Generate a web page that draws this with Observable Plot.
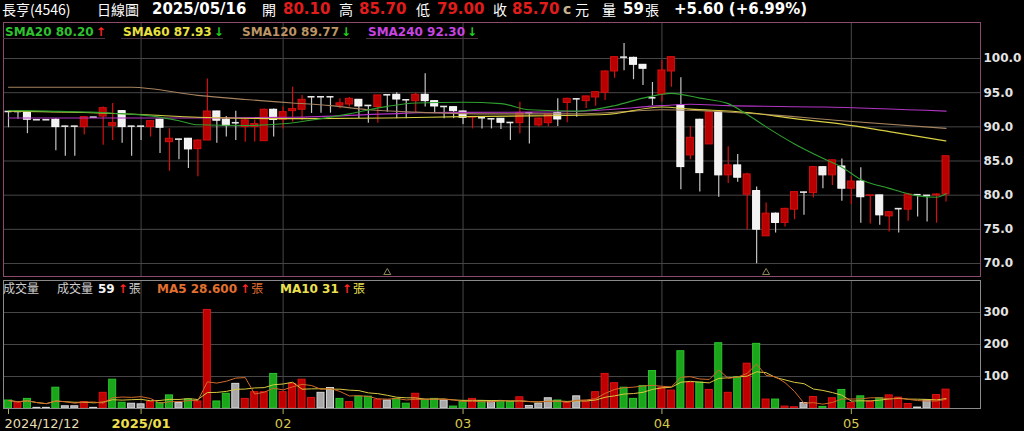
<!DOCTYPE html>
<html>
<head>
<meta charset="utf-8">
<script src="https://cdn.jsdelivr.net/npm/d3@7"></script>
<script src="https://cdn.jsdelivr.net/npm/@observablehq/plot@0.6"></script>
<style>
  body { margin: 0; background: #000; }
  #wrap { position: relative; width: 1024px; height: 431px; overflow: hidden; background: #000;
          font-family: "DejaVu Sans", "Noto Sans CJK TC", sans-serif; }
  #wrap svg { position: absolute; left: 0; }
  .t { position: absolute; white-space: nowrap; line-height: 1; }
  .cjk { font-family: "Noto Sans CJK TC", "DejaVu Sans", sans-serif; font-weight: normal; }
  .b { font-weight: bold; }
  .u { position: absolute; height: 0; border-bottom: 1px solid #4a3440; }
</style>
</head>
<body>
<div id="wrap"></div>
<script>
// ---- daily prices, 2024/12/12 .. 2025/05/16 (100 trading days) ----
const open = [
  92.25, 92.25, 92.10, 91.04, 91.04, 91.04, 90.10, 90.10, 89.96, 91.42,
  91.50, 90.16, 92.30, 90.10, 90.10, 89.96, 91.04, 87.76, 88.20, 88.26,
  86.74, 88.00, 92.25, 91.04, 90.60, 89.96, 90.00, 87.90, 92.50, 91.04,
  92.30, 92.50, 94.40, 94.40, 94.40, 93.10, 93.27, 93.96, 93.13, 92.90,
  94.69, 94.69, 93.96, 93.76, 94.69, 93.76, 92.98, 92.88, 92.25, 91.35,
  91.33, 91.18, 91.18, 90.64, 90.54, 92.06, 90.20, 90.54, 92.00, 93.50,
  94.10, 93.76, 94.30, 94.99, 98.10, 100.20, 100.10, 99.08, 94.25, 94.74,
  98.10, 93.13, 85.82, 91.04, 87.43, 92.15, 82.90, 84.36, 80.07, 80.60,
  73.98, 77.30, 75.94, 77.88, 80.45, 80.30, 84.10, 82.90, 84.20, 80.95,
  82.00, 79.90, 79.97, 76.90, 78.03, 77.88, 80.07, 79.97, 79.95, 80.10
];
const high = [
  92.25, 92.25, 92.30, 91.04, 91.04, 91.20, 90.10, 90.10, 91.50, 91.42,
  92.90, 93.40, 92.40, 90.10, 90.10, 90.90, 91.10, 89.70, 88.20, 88.30,
  88.10, 97.00, 92.30, 91.50, 92.30, 91.10, 91.00, 92.60, 92.60, 92.90,
  95.80, 94.60, 94.40, 94.40, 94.40, 94.10, 94.30, 94.00, 93.13, 94.60,
  94.69, 95.00, 93.96, 94.90, 97.76, 93.80, 92.98, 92.90, 92.30, 91.42,
  91.33, 91.18, 91.20, 90.64, 93.60, 92.06, 91.30, 91.90, 94.10, 94.20,
  94.10, 94.50, 95.10, 98.20, 100.20, 102.20, 100.20, 99.10, 96.50, 99.70,
  100.20, 97.18, 90.06, 91.10, 92.30, 92.20, 87.10, 85.96, 83.20, 81.20,
  78.85, 77.40, 78.10, 80.50, 80.45, 84.20, 84.10, 85.10, 85.30, 82.75,
  84.00, 79.97, 80.00, 77.60, 78.03, 80.20, 80.07, 79.97, 80.20, 85.70
];
const low = [
  89.87, 91.10, 89.00, 91.04, 91.04, 86.50, 85.70, 85.70, 88.80, 91.42,
  87.30, 88.00, 87.60, 85.70, 88.00, 88.50, 86.10, 83.50, 85.20, 83.90,
  82.70, 88.00, 87.60, 88.50, 88.00, 87.76, 87.80, 87.90, 88.50, 89.70,
  90.70, 90.90, 91.96, 92.00, 92.00, 92.65, 92.90, 91.20, 90.54, 90.54,
  92.15, 91.20, 91.20, 92.15, 92.90, 91.90, 91.20, 91.20, 90.35, 89.70,
  89.70, 89.70, 89.60, 88.00, 89.00, 87.50, 89.96, 90.00, 90.06, 90.60,
  91.40, 92.70, 93.00, 93.86, 97.10, 98.20, 96.90, 96.05, 93.10, 93.60,
  95.80, 80.80, 85.20, 80.45, 87.40, 79.70, 81.70, 81.90, 74.95, 69.98,
  73.98, 74.46, 75.35, 76.40, 77.05, 79.60, 80.95, 81.40, 79.10, 78.65,
  75.90, 75.80, 75.60, 74.60, 74.46, 76.20, 76.80, 76.07, 75.90, 79.00
];
const close = [
  92.25, 92.25, 91.04, 91.04, 91.04, 89.96, 90.10, 90.10, 91.42, 91.42,
  92.73, 90.54, 89.96, 90.10, 90.10, 90.83, 89.87, 88.26, 88.20, 86.70,
  88.00, 92.25, 90.90, 90.16, 90.60, 90.94, 90.40, 92.50, 91.00, 92.15,
  92.60, 93.96, 94.40, 94.40, 94.40, 93.45, 94.10, 92.98, 93.13, 94.60,
  94.69, 94.00, 93.96, 94.69, 93.76, 92.98, 92.98, 92.30, 91.33, 91.42,
  91.33, 91.18, 90.60, 90.64, 92.00, 92.06, 91.20, 91.80, 91.08, 94.10,
  94.10, 94.45, 95.07, 98.10, 100.20, 100.20, 99.08, 98.50, 94.25, 98.25,
  100.20, 84.11, 88.40, 83.23, 92.15, 82.90, 84.36, 82.56, 83.04, 74.95,
  77.30, 75.94, 78.00, 80.45, 80.45, 84.10, 82.90, 85.10, 80.95, 82.00,
  79.70, 79.97, 77.05, 77.50, 78.03, 80.10, 80.07, 79.97, 80.10, 85.70
];
// volume in lots (張) and the day's direction vs. previous close: r up, g down, w unchanged
const volume = [
  25, 17, 30, 2, 2, 65, 7, 7, 20, 2,
  49, 90, 18, 15, 13, 20, 17, 41, 17, 28,
  22, 308, 22, 46, 77, 30, 51, 51, 108, 51,
  77, 90, 33, 49, 64, 30, 20, 37, 37, 27,
  25, 30, 15, 46, 27, 30, 25, 6, 22, 30,
  23, 22, 22, 22, 35, 8, 15, 32, 25, 17,
  38, 22, 51, 108, 79, 65, 30, 70, 117, 65,
  56, 179, 80, 81, 58, 204, 49, 98, 140, 202,
  28, 28, 6, 4, 17, 36, 5, 32, 58, 17,
  38, 22, 32, 41, 34, 14, 3, 25, 42, 59
];
const volumeDir = (
  "grgwwgwwrw" + "rggwwrggwg" + "rrggwrrrgr" + "rrrwwgrggr" + "wggrggwggr" +
  "gwggrwwwgr" + "wrrrrggggr" + "rgrgrgrgrg" + "rgrrwrgrgr" + "grgrrrwwrr"
).split("");

// moving averages of the close: [trading-day index, value]
const sma20 = [[0, 92.4], [4, 92.3], [11, 92.0], [15, 91.6], [18, 90.9], [20, 90.3], [25, 90.2],
  [29, 90.45], [33, 91.2], [36, 91.9], [40, 93.0], [43, 93.5], [48, 93.6], [52, 93.4], [55, 92.5],
  [60, 92.3], [64, 93.1], [67, 94.2], [70, 94.9], [73, 94.2], [76, 93.4], [78, 91.8], [80, 90.0],
  [83, 87.5], [86, 85.4], [88, 84.1], [90, 82.3], [93, 81.0], [95, 80.2], [96, 79.9], [98, 79.7], [99, 80.20]];
const sma60 = [[0, 92.3], [8, 92.1], [14, 91.8], [20, 91.4], [30, 91.2], [40, 91.3], [48, 91.5],
  [55, 91.6], [63, 91.8], [69, 92.9], [72, 92.6], [78, 92.1], [83, 91.2], [88, 90.4], [93, 89.3], [99, 87.93]];
const sma120 = [[0, 95.8], [13, 95.8], [20, 94.6], [25, 94.0], [30, 93.5], [34, 93.1], [38, 92.5],
  [43, 92.15], [50, 91.9], [60, 91.9], [66, 92.3], [69, 92.5], [78, 92.0], [88, 90.9], [99, 89.77]];
const sma240 = [[0, 91.3], [20, 91.3], [30, 91.4], [40, 91.9], [45, 92.1], [55, 92.15], [62, 92.4],
  [69, 93.1], [72, 93.3], [76, 93.1], [86, 92.9], [99, 92.30]];

// axes
const priceTicks = [70, 75, 80, 85, 90, 95, 100];
const volumeTicks = [100, 200, 300];
const tickIdx = [0, 14, 29, 48, 69, 89];
const tickLabels = ["2024/12/12", "2025/01", "02", "03", "04", "05"];
const markerIdx = [40, 80];
const stockName = "長亨(4546)";
const lastDate = "2025/05/16";

// ---- drawing ----
const wrap = document.getElementById("wrap");
const days = d3.range(close.length);
const xDomain = [-0.528, 102.64];
const up = i => close[i] > open[i];
const RED_BODY = "#b80000", RED_EDGE = "#d41010";
const WHITE_BODY = "#f2f2f2", WHITE_WICK = "#c4c4c4";
const GRID = "#474747";
const lineColors = {sma20: "#2f9f2f", sma60: "#d9cf45", sma120: "#a4825e", sma240: "#b234c4"};
const seriesLine = (data, color) =>
  Plot.line(data, {x: d => d[0], y: d => d[1], stroke: color, strokeWidth: 1.1, curve: "monotone-x"});

const priceChart = Plot.plot({
  width: 1024, height: 278,
  marginLeft: 3, marginRight: 44, marginTop: 22, marginBottom: 2,
  style: {background: "transparent", fontFamily: "DejaVu Sans"},
  color: {type: "identity"},
  x: {domain: xDomain, axis: null},
  y: {domain: [68.1, 105.27], axis: null},
  marks: [
    Plot.gridY(priceTicks, {stroke: GRID, strokeOpacity: 1}),
    Plot.gridX(tickIdx.slice(1), {stroke: GRID, strokeOpacity: 1}),
    Plot.ruleX(days, {x: i => i, y1: i => low[i], y2: i => high[i],
      stroke: i => up(i) ? RED_EDGE : WHITE_WICK, strokeWidth: 1.2}),
    Plot.rect(days.filter(i => open[i] !== close[i]), {
      x1: i => i - 0.37, x2: i => i + 0.37, y1: i => open[i], y2: i => close[i],
      fill: i => up(i) ? RED_BODY : WHITE_BODY, stroke: i => up(i) ? RED_EDGE : "#ffffff", strokeWidth: 1}),
    Plot.ruleY(days.filter(i => open[i] === close[i]), {
      y: i => close[i], x1: i => i - 0.37, x2: i => i + 0.37, stroke: "#e6e6e6", strokeWidth: 1.6}),
    seriesLine(sma240, lineColors.sma240),
    seriesLine(sma120, lineColors.sma120),
    seriesLine(sma60, lineColors.sma60),
    seriesLine(sma20, lineColors.sma20),
    Plot.dot(markerIdx, {x: d => d, frameAnchor: "bottom", dy: -4, symbol: "triangle", r: 2.6,
      fill: "none", stroke: "#8c8a58", strokeWidth: 1}),
    Plot.axisY(priceTicks, {anchor: "right", tickSize: 0, tickPadding: 3, tickFormat: d => d.toFixed(1),
      fill: "#e4e4e4", fontWeight: "bold", fontSize: 12, label: null}),
    Plot.frame({stroke: "#8e4a6c", strokeWidth: 1})
  ]
});
priceChart.style.top = "0px";
wrap.appendChild(priceChart);

const volumeColor = {r: ["#c00000", "#dc1414"], g: ["#1ba51b", "#2cc42c"], w: ["#a8a8a8", "#d8d8d8"]};
const volumeChart = Plot.plot({
  width: 1024, height: 153,
  marginLeft: 3, marginRight: 44, marginTop: 2, marginBottom: 23,
  style: {background: "transparent", fontFamily: "DejaVu Sans", overflow: "visible"},
  color: {type: "identity"},
  x: {domain: xDomain, axis: null},
  y: {domain: [0, 400], axis: null},
  marks: [
    Plot.gridY(volumeTicks, {stroke: GRID, strokeOpacity: 1}),
    Plot.gridX(tickIdx.slice(1), {stroke: GRID, strokeOpacity: 1}),
    Plot.rectY(days.filter(i => volume[i] > 0), {
      x1: i => i - 0.37, x2: i => i + 0.37, y1: 0, y2: i => volume[i],
      fill: i => volumeColor[volumeDir[i]][0], stroke: i => volumeColor[volumeDir[i]][1], strokeWidth: 1}),
    Plot.line(days, Plot.windowY({k: 10, anchor: "end"}, {x: i => i, y: i => volume[i], stroke: "#d8c840", strokeWidth: 1})),
    Plot.line(days, Plot.windowY({k: 5, anchor: "end"}, {x: i => i, y: i => volume[i], stroke: "#d06a2a", strokeWidth: 1})),
    Plot.axisY(volumeTicks, {anchor: "right", tickSize: 0, tickPadding: 3, tickFormat: d => String(d),
      fill: "#e4e4e4", fontWeight: "bold", fontSize: 12, label: null}),
    Plot.axisX(tickIdx, {anchor: "bottom", tickSize: 6, tickFormat: () => "", stroke: "#b4ac60", label: null}),
    Plot.text(tickIdx.slice(0, 1), {x: d => d, y: 0, dy: 15, dx: -4, text: (d, k) => tickLabels[k],
      textAnchor: "start", fill: "#e6dfb4", fontSize: 13}),
    Plot.text(tickIdx.slice(1, 2), {x: d => d, y: 0, dy: 15, text: () => tickLabels[1],
      fill: "#f0e050", fontSize: 13, fontWeight: "bold"}),
    Plot.text(tickIdx.slice(2), {x: d => d, y: 0, dy: 15, text: (d, k) => tickLabels[k + 2],
      fill: "#d8c850", fontSize: 13}),
    Plot.frame({stroke: "#8a8a8a", strokeWidth: 1})
  ]
});
volumeChart.style.top = "278px";
wrap.appendChild(volumeChart);

// ---- text overlays: quote header and legends ----
function put(text, left, top, cls, color, size) {
  const s = document.createElement("span");
  s.className = "t " + (cls || "");
  s.textContent = text;
  s.style.left = left + "px";
  s.style.top = top + "px";
  s.style.color = color || "#ffffff";
  s.style.fontSize = (size || 15) + "px";
  wrap.appendChild(s);
  return s;
}
// places pieces one after another: [text, cls, color, size, gapBefore, dy]
function chain(left, top, pieces) {
  let x = left;
  for (const [text, cls, color, size, gap, dy] of pieces) {
    x += gap || 0;
    const s = put(text, x, top + (dy || 0), cls, color, size);
    x += s.getBoundingClientRect().width;
  }
  return x;
}
const n = close.length - 1;
const chg = close[n] - close[n - 1];
const pct = chg / close[n - 1] * 100;
const sgn = v => (v >= 0 ? "+" : "");
const QRED = "#e01c1c";
put(stockName, 2, 2, "cjk", "#ffffff", 14);
put("日線圖", 97, 2, "cjk", "#ffffff", 14);
put(lastDate, 152, 2, "b", "#ffffff", 15);
put("開", 262, 2, "cjk", "#ffffff", 14);
put(open[n].toFixed(2), 283, 2, "b", QRED, 15);
put("高", 339, 2, "cjk", "#ffffff", 14);
put(high[n].toFixed(2), 359, 2, "b", QRED, 15);
put("低", 416, 2, "cjk", "#ffffff", 14);
put(low[n].toFixed(2), 437, 2, "b", QRED, 15);
put("收", 493, 2, "cjk", "#ffffff", 14);
put(close[n].toFixed(2), 512, 2, "b", QRED, 15);
put("c", 563, 2, "b", "#c8b48c", 14);
put("元", 575, 2, "cjk", "#ffffff", 14);
put("量", 602, 2, "cjk", "#ffffff", 14);
put(String(volume[n]), 623, 2, "b", "#ffffff", 15);
put("張", 645, 2, "cjk", "#ffffff", 14);
put(`${sgn(chg)}${chg.toFixed(2)} (${sgn(pct)}${pct.toFixed(2)}%)`, 674, 2, "b", "#ffffff", 15);

// moving-average legend of the price panel
const ARROW_UP = "#ff2424", ARROW_DN = "#22d022";
const smaLegend = [
  ["SMA20", sma20, "#30c030", 5, 3, 105],
  ["SMA60", sma60, "#e8e040", 123, 121, 223],
  ["SMA120", sma120, "#bc9466", 242, 240, 350],
  ["SMA240", sma240, "#c844e0", 368, 366, 478]
];
for (const [name, s, color, left, u0, u1] of smaLegend) {
  const last = s[s.length - 1][1], prev = s[s.length - 2][1];
  const rising = last >= prev;
  chain(left, 26, [
    [`${name} ${last.toFixed(2)}`, "b", color, 12],
    [rising ? "↑" : "↓", "b", rising ? ARROW_UP : ARROW_DN, 12, 2]
  ]);
  const u = document.createElement("div");
  u.className = "u";
  u.style.left = u0 + "px"; u.style.top = "38px"; u.style.width = (u1 - u0) + "px";
  wrap.appendChild(u);
}

// volume legend
const meanLast = (k, end) => d3.mean(volume.slice(end - k + 1, end + 1));
const ma5 = meanLast(5, n), ma10 = meanLast(10, n);
const arrow = (a, b) => (a >= b ? "↑" : "↓");
put("成交量", 3, 282, "cjk", "#cfcfcf", 12);
chain(57, 283, [
  ["成交量", "cjk", "#cfcfcf", 12, 0, -1],
  [String(volume[n]), "b", "#f4f4f4", 12, 5],
  [arrow(volume[n], volume[n - 1]), "b", ARROW_UP, 12, 3],
  ["張", "cjk", "#cfcfcf", 12, 1, -1]
]);
chain(157, 283, [
  [`MA5 ${ma5.toFixed(3)}`, "b", "#e07030", 12],
  [arrow(ma5, meanLast(5, n - 1)), "b", ARROW_UP, 12, 3],
  ["張", "cjk", "#e07030", 12, 1, -1]
]);
chain(280, 283, [
  [`MA10 ${+ma10.toFixed(3)}`, "b", "#ece050", 12],
  [arrow(ma10, meanLast(10, n - 1)), "b", ARROW_UP, 12, 3],
  ["張", "cjk", "#ece050", 12, 1, -1]
]);
</script>
</body>
</html>
